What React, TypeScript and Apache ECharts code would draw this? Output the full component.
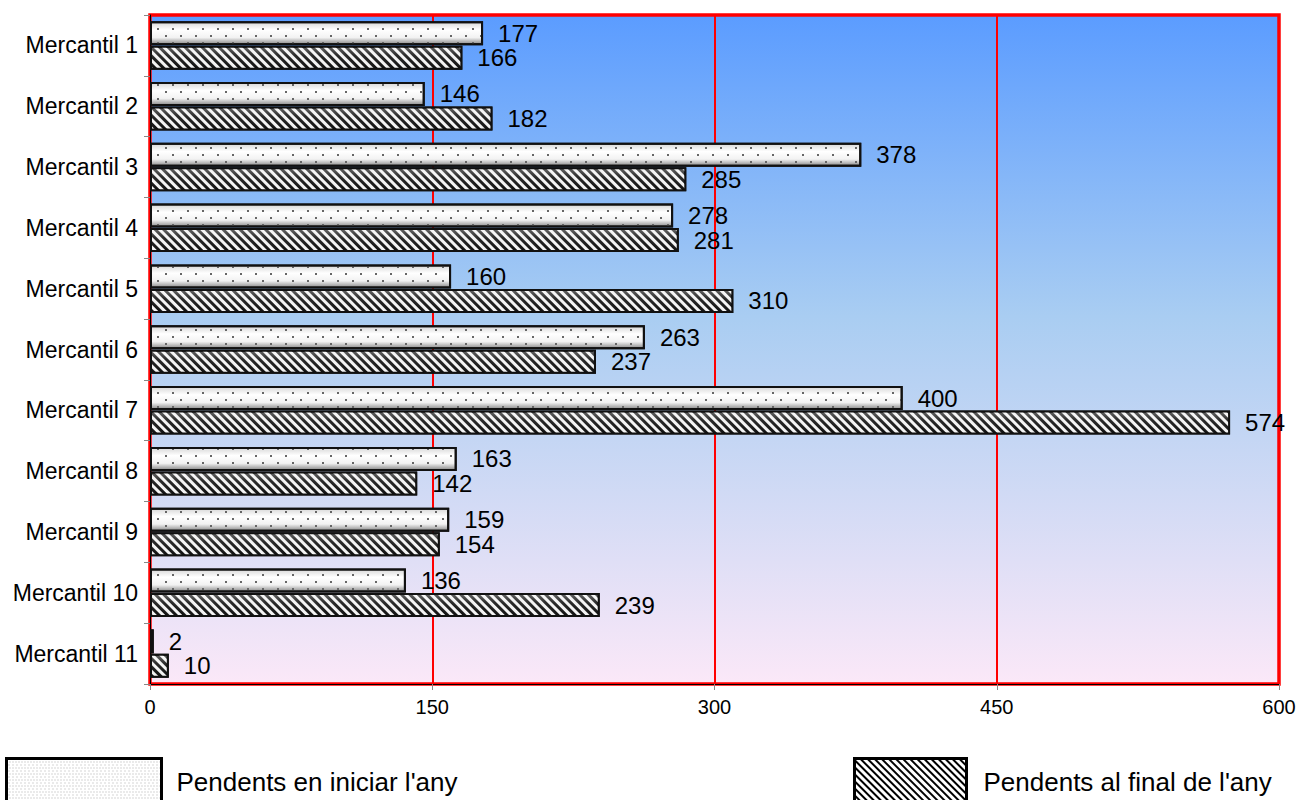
import React, { useEffect, useRef } from "react";
import * as echarts from "echarts";

const categories = [
  "Mercantil 1", "Mercantil 2", "Mercantil 3", "Mercantil 4", "Mercantil 5", "Mercantil 6",
  "Mercantil 7", "Mercantil 8", "Mercantil 9", "Mercantil 10", "Mercantil 11",
];
const seriesNames = ["Pendents en iniciar l'any", "Pendents al final de l'any"];
const startValues = [177, 146, 378, 278, 160, 263, 400, 163, 159, 136, 2];
const endValues = [166, 182, 285, 281, 310, 237, 574, 142, 154, 239, 10];
const xTicks = { min: 0, max: 600, interval: 150 };

const FONT = "Liberation Sans, Arial, sans-serif";

const dotDecal = {
  symbol: "rect",
  symbolSize: 1,
  dashArrayX: [[1.5, 12.5], [0, 7, 1.5, 5.5]],
  dashArrayY: [1.5, 5],
  color: "#666",
};
const hatchDecal = {
  symbol: "rect",
  symbolSize: 1,
  dashArrayX: [1, 0],
  dashArrayY: [3, 3],
  rotation: Math.PI / 4,
  color: "rgba(255,255,255,0.95)",
};

export default function App() {
  const ref = useRef<HTMLDivElement>(null);
  useEffect(() => {
    const chart = echarts.init(ref.current!, null, { renderer: "svg" });
    const lightGrad = new echarts.graphic.LinearGradient(0, 0, 0, 1, [
      { offset: 0, color: "#d8d8d8" },
      { offset: 0.35, color: "#ffffff" },
      { offset: 0.7, color: "#f2f2f2" },
      { offset: 1, color: "#8a8a8a" },
    ]);
    const darkGrad = new echarts.graphic.LinearGradient(0, 0, 0, 1, [
      { offset: 0, color: "#666" },
      { offset: 0.4, color: "#2a2a2a" },
      { offset: 1, color: "#111" },
    ]);
    const labelCfg = {
      show: true,
      position: "right" as const,
      distance: 15,
      fontSize: 24,
      color: "#000",
      fontFamily: FONT,
    };
    chart.setOption({
      animation: false,
      textStyle: { fontFamily: FONT },
      grid: {
        left: 150,
        right: 21,
        top: 15,
        bottom: 116,
        show: true,
        borderColor: "#ff0000",
        borderWidth: 3.5,
        backgroundColor: new echarts.graphic.LinearGradient(0, 0, 0, 1, [
          { offset: 0, color: "#5b9cff" },
          { offset: 0.45, color: "#a9cdf2" },
          { offset: 1, color: "#fbe8f8" },
        ]),
      },
      xAxis: {
        type: "value",
        min: xTicks.min,
        max: xTicks.max,
        interval: xTicks.interval,
        axisLine: { show: true, lineStyle: { color: "#000", width: 1 } },
        axisTick: { show: true, length: 6, lineStyle: { color: "#888" } },
        axisLabel: { fontSize: 20, color: "#000", margin: 13, fontFamily: FONT },
        splitLine: { show: true, lineStyle: { color: "#ff0000", width: 2 } },
      },
      yAxis: {
        type: "category",
        data: categories,
        inverse: true,
        axisLine: { show: true, lineStyle: { color: "#000", width: 1 } },
        axisTick: { show: true, length: 6, lineStyle: { color: "#888" } },
        axisLabel: { fontSize: 23, color: "#000", margin: 12, fontFamily: FONT },
      },
      legend: [
        {
          left: 5,
          top: 757,
          padding: 0,
          itemWidth: 155,
          itemHeight: 46,
          itemGap: 15,
          icon: "rect",
          textStyle: { fontSize: 26, color: "#000", fontFamily: FONT, padding: [0, 0, 0, 10] },
          data: [
            {
              name: seriesNames[0],
              itemStyle: {
                color: "#ffffff",
                borderColor: "#000",
                borderWidth: 3,
                decal: {
                  symbol: "rect",
                  symbolSize: 1,
                  dashArrayX: [[1, 2], [0, 1.5, 1, 0.5]],
                  dashArrayY: [1, 2],
                  color: "#aaa",
                },
              },
            },
          ],
        },
        {
          left: 853,
          top: 757,
          padding: 0,
          itemWidth: 112,
          itemHeight: 46,
          icon: "rect",
          textStyle: { fontSize: 26, color: "#000", fontFamily: FONT, padding: [0, 0, 0, 12] },
          data: [
            {
              name: seriesNames[1],
              itemStyle: {
                color: "#ffffff",
                borderColor: "#000",
                borderWidth: 3,
                decal: {
                  symbol: "rect",
                  symbolSize: 1,
                  dashArrayX: [1, 0],
                  dashArrayY: [1.2, 2.8],
                  rotation: Math.PI / 4,
                  color: "#000",
                },
              },
            },
          ],
        },
      ],
      series: [
        {
          name: seriesNames[0],
          type: "bar",
          data: startValues,
          barWidth: 24,
          barGap: "2%",
          itemStyle: {
            color: lightGrad,
            borderColor: "#111",
            borderWidth: 2,
            decal: dotDecal,
          },
          label: labelCfg,
        },
        {
          name: seriesNames[1],
          type: "bar",
          data: endValues,
          barWidth: 24,
          itemStyle: {
            color: darkGrad,
            borderColor: "#111",
            borderWidth: 2,
            decal: hatchDecal,
          },
          label: labelCfg,
        },
      ],
    });
    return () => chart.dispose();
  }, []);
  return (
    <div
      ref={ref}
      style={{ position: "fixed", left: 0, top: 0, width: 1300, height: 800, background: "#fff" }}
    />
  );
}
